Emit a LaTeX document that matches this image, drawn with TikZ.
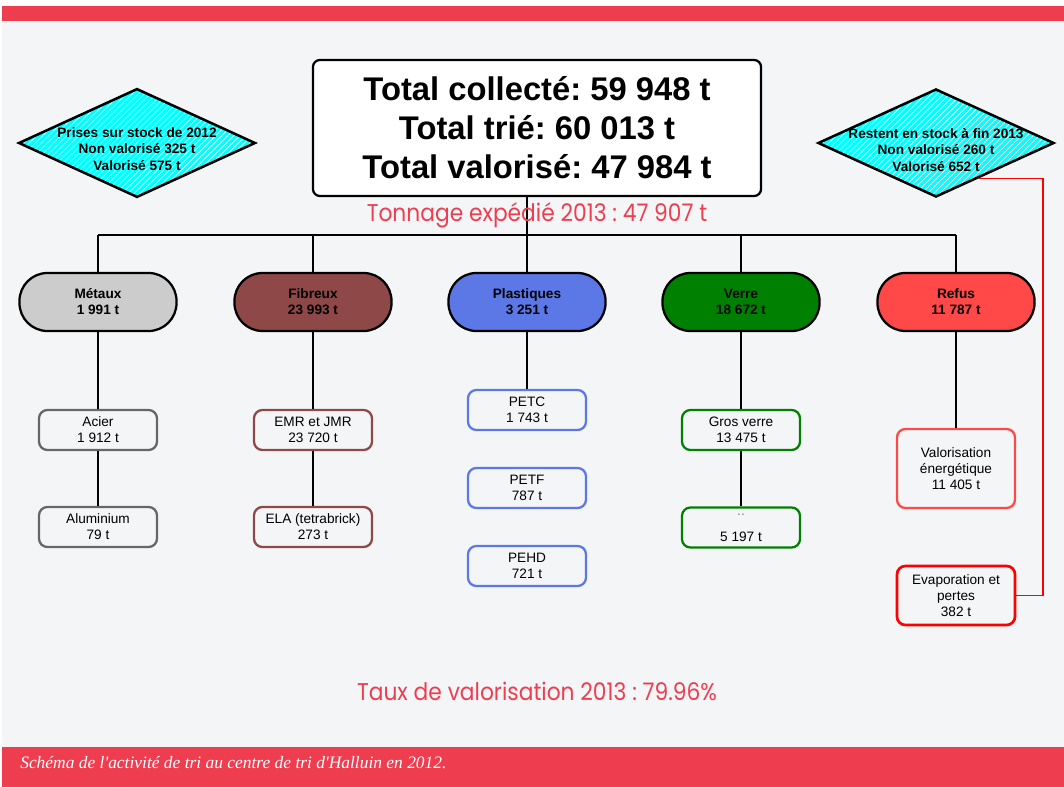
\documentclass[tikz,border=0pt]{standalone}
\usepackage{fontspec}
\setmainfont{Liberation Sans}
\newfontfamily\titlefont{Poppins}
\newfontfamily\capfont{Liberation Serif}
\usepackage{tikz}
\usetikzlibrary{positioning, shapes.geometric, patterns.meta, calc}
\usepackage{xcolor}
\definecolor{hred}{HTML}{EF3D50}
\definecolor{hbg}{HTML}{F4F5F7}
\definecolor{cmetal}{HTML}{CCCCCC}
\definecolor{cmetalb}{HTML}{666666}
\definecolor{cfibre}{HTML}{8E4848}
\definecolor{cplast}{HTML}{5B78E6}
\definecolor{cverre}{HTML}{008000}
\definecolor{crefus}{HTML}{FF4848}
\definecolor{cstock}{HTML}{00FFFF}
\frenchspacing
\tikzset{
  catbox/.style={draw=black, line width=1.6pt, rounded corners=0.7cm,
                 minimum width=3.925cm, minimum height=1.45cm, inner sep=0pt,
                 align=center, font=\fontsize{9.7}{11.4}\selectfont\bfseries},
  subbox/.style={line width=1.6pt, rounded corners=6pt,
                 minimum width=2.95cm, minimum height=1cm, inner sep=0pt,
                 align=center, font=\fontsize{9.7}{11.4}\selectfont},
  totalbox/.style={draw=black, fill=white, line width=1.6pt, rounded corners=5pt,
                   minimum width=11.2cm, minimum height=3.4cm, align=center,
                   font=\fontsize{23.3}{27.7}\selectfont\bfseries},
  stockdiam/.style={diamond, draw=black, line width=1.8pt, inner sep=0pt,
                    minimum width=5.9cm, minimum height=2.7cm,
                    preaction={fill=cstock},
                    pattern={Lines[angle=45, distance=3pt, line width=0.5pt]},
                    pattern color=white},
  stocktxt/.style={align=center, font=\fontsize{9.7}{11.7}\selectfont\bfseries},
  redtxt/.style={text=hred, font=\titlefont\fontsize{17.2}{20}\selectfont},
  link/.style={draw=black, line width=0.8pt},
}
\begin{document}
\begin{tikzpicture}[x=0.025cm, y=-0.025cm]
  % fond et bandeaux
  \fill[white] (0,0) rectangle (1064,787);
  \useasboundingbox (0,0) rectangle (1064,787);
  \fill[hbg] (2,21) rectangle (1064,747);
  \fill[hred] (2,6) rectangle (1064,21);
  \fill[hred] (2,747) rectangle (1064,787);

  % totaux et stocks
  \node[totalbox] (total) at (537,128)
    {Total collecté: 59 948 t\\Total trié: 60 013 t\\Total valorisé: 47 984 t};
  \node[stockdiam] (stockA) at (137,143) {};
  \node[stocktxt] (stockAtxt) at (137,149)
    {Prises sur stock de 2012\\Non valorisé 325 t\\Valorisé 575 t};
  \node[stockdiam] (stockB) at (936,143) {};
  \node[stocktxt] (stockBtxt) at (936,150)
    {Restent en stock à fin 2013\\Non valorisé 260 t\\Valorisé 652 t};

  % categories
  \node[catbox, fill=cmetal] (met) at (98,302) {Métaux\\1 991 t};
  \node[catbox, fill=cfibre] (fib) at (313,302) {Fibreux\\23 993 t};
  \node[catbox, fill=cplast] (pla) at (527,302) {Plastiques\\3 251 t};
  \node[catbox, fill=cverre] (ver) at (741,302) {Verre\\18 672 t};
  \node[catbox, fill=crefus] (ref) at (956,302) {Refus\\11 787 t};

  % sous-produits
  \node[subbox, draw=cmetalb] (acier) at (98,430) {Acier\\1 912 t};
  \node[subbox, draw=cmetalb] (alu) at (98,527) {Aluminium\\79 t};
  \node[subbox, draw=cfibre] (emr) at (313,430) {EMR et JMR\\23 720 t};
  \node[subbox, draw=cfibre] (ela) at (313,527) {ELA (tetrabrick)\\273 t};
  \node[subbox, draw=cplast] (petc) at (527,410) {PETC\\1 743 t};
  \node[subbox, draw=cplast] (petf) at (527,488) {PETF\\787 t};
  \node[subbox, draw=cplast] (pehd) at (527,566) {PEHD\\721 t};
  \node[subbox, draw=cverre] (gros) at (741,430) {Gros verre\\13 475 t};
  \node[subbox, draw=cverre] (verre2) at (741,527.5) {{\color{gray}..}\\[7pt]5 197 t};
  \node[subbox, draw=crefus, minimum height=1.975cm] (valo) at (956,468.5)
    {Valorisation\\énergétique\\11 405 t};
  \node[subbox, draw=red, line width=1.9pt, minimum height=1.475cm] (evap) at (956,595.5)
    {Evaporation et\\pertes\\382 t};

  % liaisons
  \coordinate (bus) at (527,235);
  \draw[link] (pla.north |- total.south) -- (pla.north);
  \draw[link] (met.north |- bus) -- (ref.north |- bus);
  \foreach \c in {met,fib,ver,ref}
    \draw[link] (\c.north |- bus) -- (\c.north);
  \draw[link] (met) -- (acier) -- (alu);
  \draw[link] (fib) -- (emr) -- (ela);
  \draw[link] (pla) -- (petc);
  \draw[link] (ver) -- (gros) -- (verre2);
  \draw[link] (ref) -- (valo);
  \coordinate (rline) at (1043,177);
  \draw[red, line width=0.8pt] ($(stockB.south)!0.36!(stockB.east)$) -| (rline |- evap.east) -- (evap.east);

  % textes rouges
  \node[redtxt] (tonnage) at (537,215) {\scalebox{0.9}[1]{Tonnage expédié 2013 : 47 907 t}};
  \node[redtxt] (taux) at (537,691) {\scalebox{0.9}[1]{Taux de valorisation 2013 : 79.96\%}};
  \node[anchor=west, inner sep=0pt, text=white, font=\capfont\itshape\fontsize{12.4}{14}\selectfont] (legende) at (20,763)
    {Schéma de l'activité de tri au centre de tri d'Halluin en 2012.};
\end{tikzpicture}
\end{document}
